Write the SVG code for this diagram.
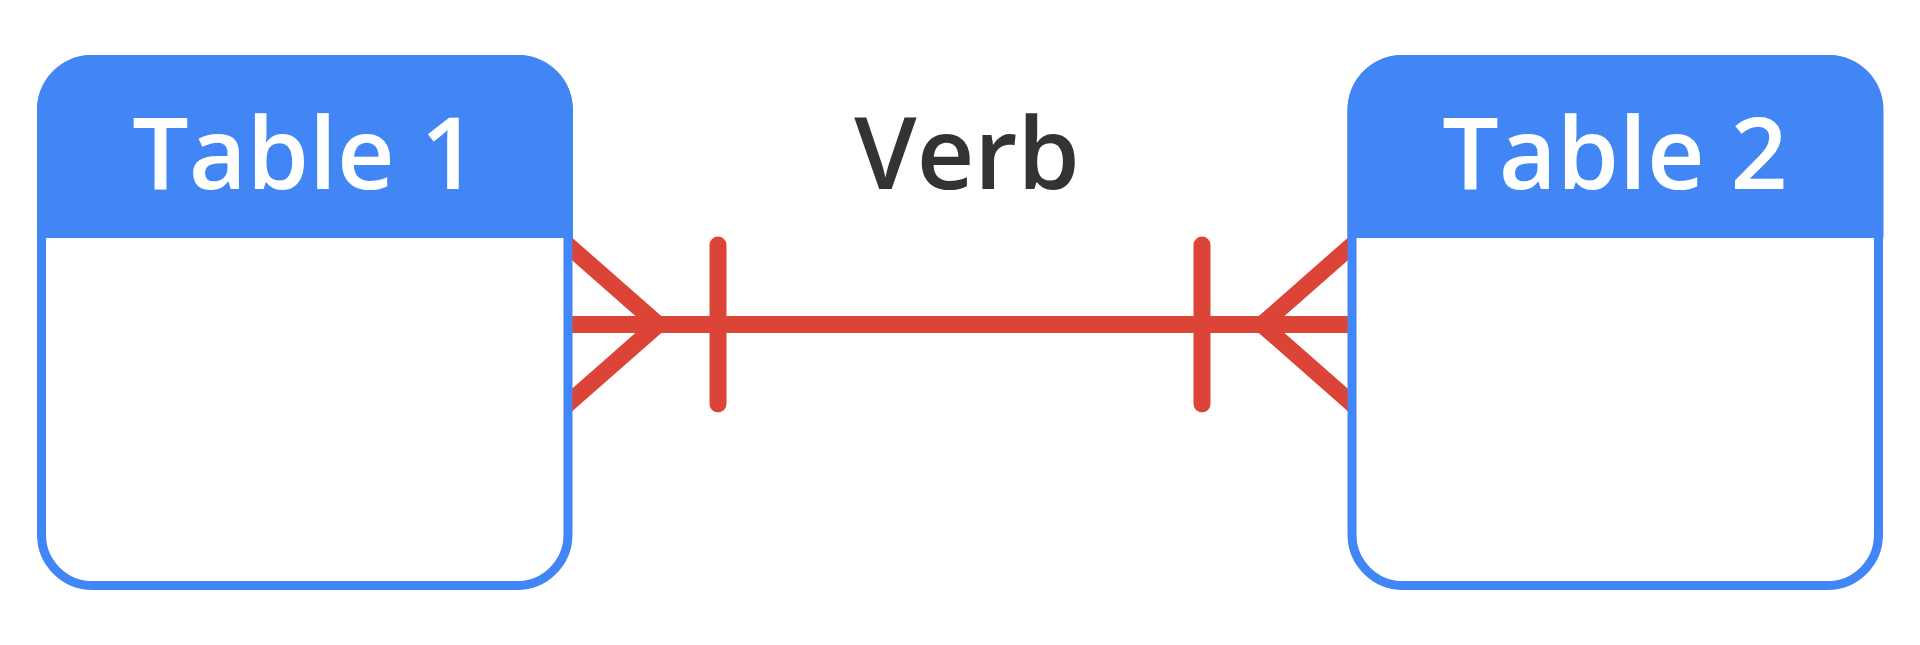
<svg xmlns="http://www.w3.org/2000/svg" width="1920" height="645" viewBox="0 0 1920 645">
  <style>
    .conn { fill: none; stroke: #DB4437; stroke-width: 17; }
    .bar { stroke-linecap: round; }
    .box { fill: #FFFFFF; stroke: #4285F4; stroke-width: 9; }
    .head { fill: #4285F4; }
    .title { font-family: "Open Sans", "Liberation Sans", sans-serif; font-size: 100px; font-weight: 600; fill: #FFFFFF; text-anchor: middle; }
    .verb { font-family: "Open Sans", "Liberation Sans", sans-serif; font-size: 100px; font-weight: 600; fill: #333333; text-anchor: middle; }
  </style>
  <rect width="1920" height="645" fill="#FFFFFF"/>
  <g id="connectors">
    <line class="conn" x1="560" y1="324.5" x2="1360" y2="324.5"/>
    <path class="conn" stroke-linejoin="bevel" d="M560,238.3 L658,324.5 L560,410.7"/>
    <path class="conn" stroke-linejoin="bevel" d="M1360,238.3 L1262,324.5 L1360,410.7"/>
    <line class="conn bar" x1="718" y1="245" x2="718" y2="404"/>
    <line class="conn bar" x1="1202" y1="245" x2="1202" y2="404"/>
  </g>
  <g id="table1">
    <rect class="box" x="41.5" y="59.5" width="526.5" height="526" rx="51" ry="51"/>
    <path class="head" d="M37,238 V109.5 A54.5,54.5 0 0 1 91.5,55 H518.5 A54.5,54.5 0 0 1 573,109.5 V238 Z"/>
    <text class="title" x="305" y="189">Table 1</text>
  </g>
  <g id="table2">
    <rect class="box" x="1352" y="59.5" width="526.5" height="526" rx="51" ry="51"/>
    <path class="head" d="M1347.5,238 V109.5 A54.5,54.5 0 0 1 1402,55 H1829 A54.5,54.5 0 0 1 1883.5,109.5 V238 Z"/>
    <text class="title" x="1615" y="189">Table 2</text>
  </g>
  <g id="verb-label">
    <text class="verb" x="967" y="189">Verb</text>
  </g>
</svg>
